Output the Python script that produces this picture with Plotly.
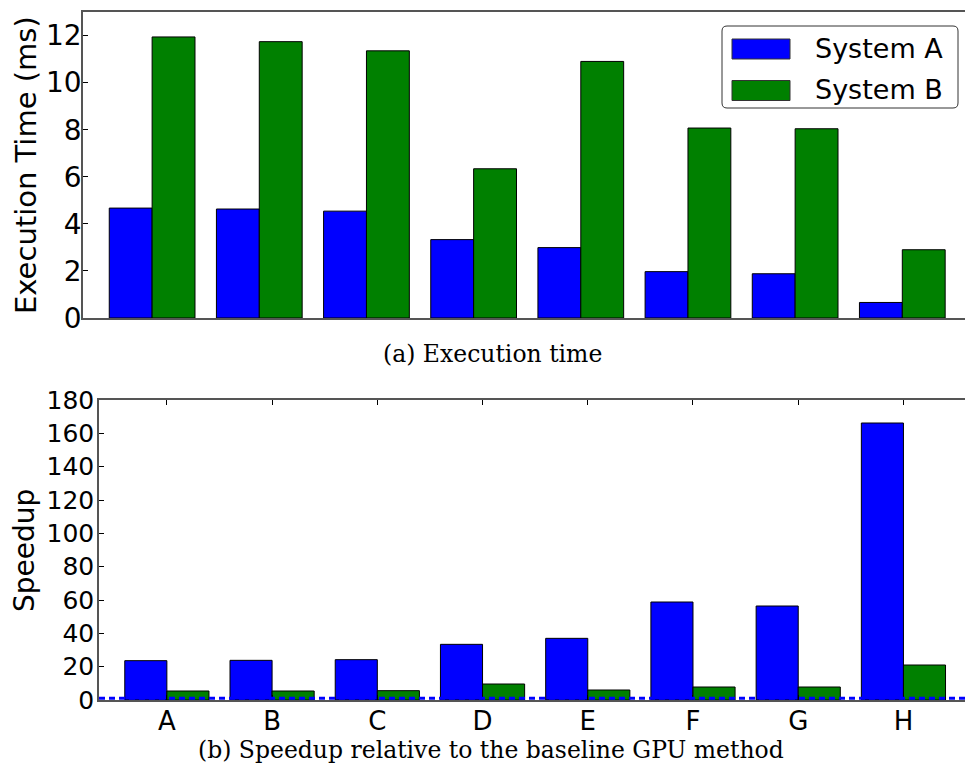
import plotly.graph_objects as go

# ---- data -------------------------------------------------------------
benchmarks = ["A", "B", "C", "D", "E", "F", "G", "H"]
series_names = ["System A", "System B"]

time_a = [4.67, 4.63, 4.54, 3.33, 2.99, 1.97, 1.88, 0.66]        # ms
time_b = [11.94, 11.74, 11.35, 6.34, 10.90, 8.07, 8.04, 2.90]    # ms

speedup_a = [23.6, 23.8, 24.2, 33.4, 37.0, 58.8, 56.4, 166.2]
speedup_b = [5.4, 5.4, 5.6, 9.6, 6.0, 7.8, 7.8, 21.0]
baseline_speedup = 1.0

time_ticks = [0, 2, 4, 6, 8, 10, 12]
speedup_ticks = [0, 20, 40, 60, 80, 100, 120, 140, 160, 180]

# ---- styling ----------------------------------------------------------
W, H = 965, 767
BLUE = "#0000ff"
GREEN = "#008000"
SPINE = "#555555"
SANS = "DejaVu Sans"
SERIF = "DejaVu Serif"


def px(x):
    return x / W


def py(y):
    return 1 - y / H


fig = go.Figure()

bar_line = dict(color="black", width=1)
for vals, color, name in ((time_a, BLUE, series_names[0]), (time_b, GREEN, series_names[1])):
    fig.add_trace(go.Bar(x=benchmarks, y=vals, name=name, marker=dict(color=color, line=bar_line),
                         xaxis="x", yaxis="y", showlegend=False))
for vals, color, name in ((speedup_a, BLUE, series_names[0]), (speedup_b, GREEN, series_names[1])):
    fig.add_trace(go.Bar(x=benchmarks, y=vals, name=name, marker=dict(color=color, line=bar_line),
                         xaxis="x2", yaxis="y2", showlegend=False))

xrange_ = [-0.645, 7.585]
common_axis = dict(showgrid=False, zeroline=False, showline=True, linecolor=SPINE, linewidth=1.5,
                   automargin=False, tickcolor="black", tickwidth=1)

fig.update_layout(
    width=W, height=H,
    template="none",
    paper_bgcolor="white", plot_bgcolor="white",
    margin=dict(l=0, r=0, t=0, b=0),
    barmode="group", bargap=0.2, bargroupgap=0,
    font=dict(family=SANS, color="black"),
    xaxis=dict(common_axis, domain=[px(83), 1], anchor="y", type="category", range=xrange_,
               showticklabels=False, ticks="", mirror=True),
    yaxis=dict(common_axis, domain=[py(318), py(12)], anchor="x", range=[0, 13],
               tickvals=time_ticks, ticks="inside", ticklen=5, ticklabelstandoff=-6,
               tickfont=dict(size=28, family=SANS)),
    xaxis2=dict(common_axis, domain=[px(99), 1], anchor="y2", type="category", range=xrange_,
                ticks="inside", ticklen=5, mirror="ticks", ticklabelstandoff=-3,
                tickfont=dict(size=26, family=SANS)),
    yaxis2=dict(common_axis, domain=[py(700), py(400)], anchor="x2", range=[0, 180],
                tickvals=speedup_ticks, ticks="inside", ticklen=5, ticklabelstandoff=-2,
                tickfont=dict(size=25, family=SANS)),
)

shapes = []
# speedup = 1 reference line
shapes.append(dict(type="line", xref="x2 domain", x0=0, x1=1, yref="y2",
                   y0=baseline_speedup, y1=baseline_speedup,
                   line=dict(color=BLUE, width=3, dash="6px,4px"), layer="above"))

# legend frame with rounded corners
lx0, lx1, ly0, ly1, r = 722, 958, 26, 108, 5
path = (f"M {px(lx0 + r)},{py(ly0)} L {px(lx1 - r)},{py(ly0)} "
        f"Q {px(lx1)},{py(ly0)} {px(lx1)},{py(ly0 + r)} L {px(lx1)},{py(ly1 - r)} "
        f"Q {px(lx1)},{py(ly1)} {px(lx1 - r)},{py(ly1)} L {px(lx0 + r)},{py(ly1)} "
        f"Q {px(lx0)},{py(ly1)} {px(lx0)},{py(ly1 - r)} L {px(lx0)},{py(ly0 + r)} "
        f"Q {px(lx0)},{py(ly0)} {px(lx0 + r)},{py(ly0)} Z")
shapes.append(dict(type="path", xref="paper", yref="paper", path=path,
                   line=dict(color="#333333", width=1), fillcolor="white", layer="above"))

annotations = []
for i, (name, color) in enumerate(zip(series_names, (BLUE, GREEN))):
    cy = 49 + i * 41.5
    shapes.append(dict(type="rect", xref="paper", yref="paper",
                       x0=px(732), x1=px(790), y0=py(cy - 10), y1=py(cy + 10),
                       fillcolor=color, line=dict(color="#333333", width=1), layer="above"))
    annotations.append(dict(text=name, xref="paper", yref="paper", x=px(813), y=py(cy - 1),
                            xanchor="left", yanchor="middle", showarrow=False,
                            font=dict(size=27, family=SANS, color="black")))

# y-axis titles
annotations.append(dict(text="Execution Time (ms)", xref="paper", yref="paper", x=px(26), y=py(165),
                        textangle=-90, xanchor="center", yanchor="middle", showarrow=False,
                        font=dict(size=29, family=SANS, color="black")))
annotations.append(dict(text="Speedup", xref="paper", yref="paper", x=px(24), y=py(551),
                        textangle=-90, xanchor="center", yanchor="middle", showarrow=False,
                        font=dict(size=28, family=SANS, color="black")))

# sub-figure captions
annotations.append(dict(text="(a) Execution time", xref="paper", yref="paper", x=px(492), y=py(354),
                        xanchor="center", yanchor="middle", showarrow=False,
                        font=dict(size=23.5, family=SERIF, color="black")))
annotations.append(dict(text="(b) Speedup relative to the baseline GPU method", xref="paper", yref="paper",
                        x=px(491), y=py(750), xanchor="center", yanchor="middle", showarrow=False,
                        font=dict(size=23.5, family=SERIF, color="black")))

fig.update_layout(shapes=shapes, annotations=annotations)

fig.write_html("out.html")
